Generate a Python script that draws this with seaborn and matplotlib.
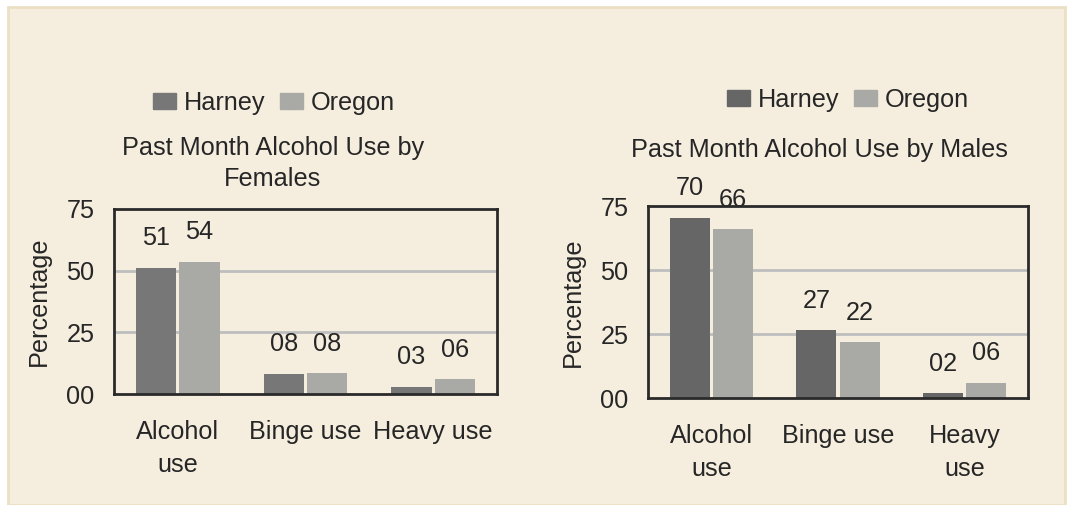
import pandas as pd
import seaborn as sns
import matplotlib.pyplot as plt
from matplotlib.patches import Rectangle
from matplotlib.ticker import FuncFormatter

categories = ["Alcohol use", "Binge use", "Heavy use"]
female_harney = [51.2, 8.2, 3.0]
female_oregon = [53.6, 8.5, 6.1]
male_harney = [70.4, 26.6, 1.8]
male_oregon = [66.0, 21.7, 6.0]
female_ticklabels = ["Alcohol\nuse", "Binge use", "Heavy use"]
male_ticklabels = ["Alcohol\nuse", "Binge use", "Heavy\nuse"]

W, H = 1068, 505
BG = "#F5EEDF"
TXT = "#262626"
plt.rcParams["font.family"] = ["Liberation Sans", "DejaVu Sans"]
FS = 18.2

def long_df(harney, oregon):
    return pd.DataFrame({
        "category": categories * 2,
        "region": ["Harney"] * 3 + ["Oregon"] * 3,
        "value": harney + oregon,
    })

fig = plt.figure(figsize=(W / 100, H / 100), dpi=100, facecolor="white")
fig.patches.append(Rectangle((8 / W, 0), 1057 / W, 498 / H, transform=fig.transFigure,
                             facecolor=BG, edgecolor="#EBE0C4", linewidth=2, zorder=-10))

def px_axes(x0, y0, x1, y1):
    return fig.add_axes([x0 / W, 1 - y1 / H, (x1 - x0) / W, (y1 - y0) / H])

ax1 = px_axes(114, 209, 497, 394)
ax2 = px_axes(648, 206, 1028, 398)

panels = [
    (ax1, long_df(female_harney, female_oregon), "#777777", female_ticklabels),
    (ax2, long_df(male_harney, male_oregon), "#666666", male_ticklabels),
]

for ax, df, dark, ticklabels in panels:
    sns.barplot(data=df, x="category", y="value", hue="region", hue_order=["Harney", "Oregon"],
                palette=[dark, "#A9A9A6"], width=0.68, gap=0.07, ax=ax, legend=False,
                zorder=3)
    ax.set_facecolor(BG)
    ax.set_ylim(0, 75)
    ax.set_yticks([0, 25, 50, 75])
    ax.yaxis.set_major_formatter(FuncFormatter(lambda v, p: f"{v:02.0f}"))
    for y in [25, 50]:
        ax.axhline(y, color="#BEBEBE", linewidth=2, zorder=1)
    for s in ax.spines.values():
        s.set_color("#2A2A2A")
        s.set_linewidth(2)
        s.set_zorder(5)
    ax.tick_params(length=0, labelsize=FS, colors=TXT)
    ax.tick_params(axis="x", pad=19)
    ax.tick_params(axis="y", pad=14)
    ax.set_xticks(range(3))
    ax.set_xticklabels(ticklabels, linespacing=1.45)
    ax.set_xlabel("")
    ax.set_ylabel("Percentage", fontsize=FS, color=TXT, labelpad=11)
    for c in ax.containers:
        ax.bar_label(c, labels=[f"{v:02.0f}" for v in c.datavalues], padding=12.5,
                     fontsize=FS, color=TXT, clip_on=False)

def px_text(x, y, s):
    fig.text(x / W, 1 - y / H, s, ha="center", va="baseline", fontsize=FS, color=TXT)

px_text(273, 155, "Past Month Alcohol Use by")
px_text(273, 186, "Females")
px_text(819, 157, "Past Month Alcohol Use by Males")

for ax, cx, cy in [(ax1, 274, 103), (ax2, 848, 100)]:
    handles = [Rectangle((0, 0), 1, 1, color=c.patches[0].get_facecolor()) for c in ax.containers]
    fig.legend(handles, ["Harney", "Oregon"], loc="center", bbox_to_anchor=(cx / W, 1 - cy / H),
               ncol=2, frameon=False, fontsize=FS, handlelength=0.91, handleheight=0.63,
               handletextpad=0.32, columnspacing=0.55, labelcolor=TXT,
               borderpad=0, borderaxespad=0)

fig.savefig("out.png", dpi=100, facecolor="white")
